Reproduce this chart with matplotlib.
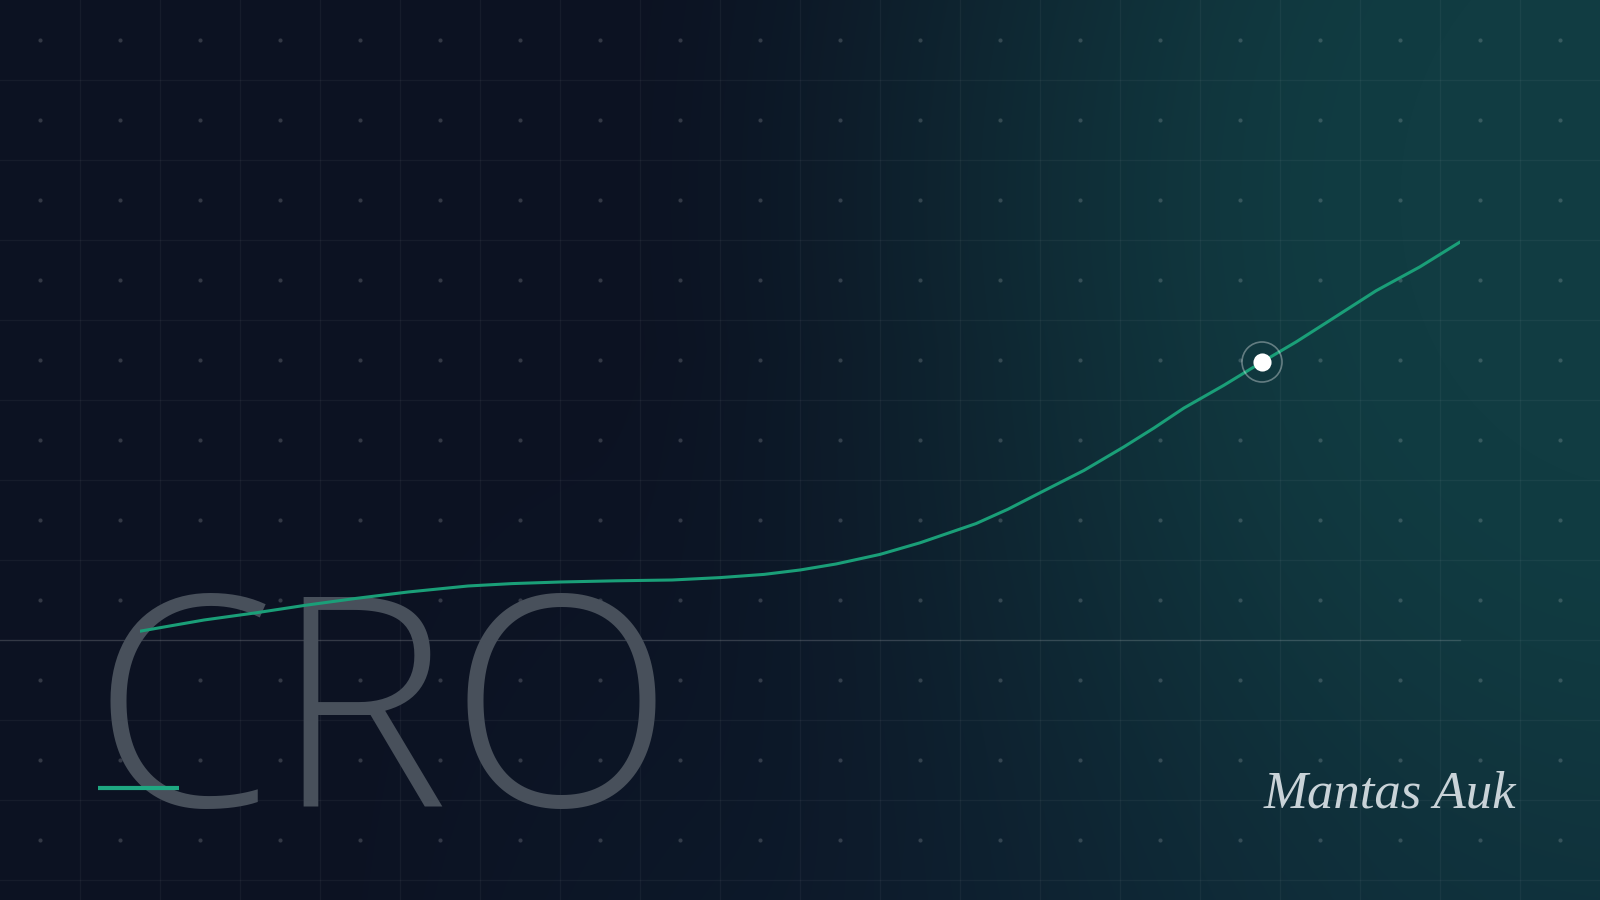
import numpy as np
import matplotlib.pyplot as plt
from matplotlib import font_manager

# conversion rate trend (weeks vs %)
weeks = [0.0, 1.6, 2.9, 4.15, 5.4, 6.7, 8.2, 9.3, 10.5, 11.9, 13.3, 14.5,
         15.6, 16.5, 17.4, 18.5, 19.5, 20.9, 21.7, 22.5, 23.6, 24.6, 25.35,
         26.1, 27.1, 28.05, 28.9, 29.7, 30.9, 32.0, 33.0]
rate = [0.22, 0.5, 0.68, 0.87, 1.04, 1.2, 1.35, 1.41, 1.45, 1.48, 1.5, 1.56,
        1.64, 1.75, 1.9, 2.14, 2.43, 2.91, 3.27, 3.68, 4.24, 4.83, 5.3,
        5.8, 6.37, 6.95, 7.45, 7.96, 8.73, 9.33, 9.95]
highlight = 25  # index of the marked point

title = "CRO"
signature = "Mantas Auk"

# pick a light (300), normal-width sans for the big title
title_font = None
for fam in ['Open Sans', 'Noto Sans', 'Roboto', 'Lato']:
    for f in font_manager.fontManager.ttflist:
        if (f.name == fam and f.weight == 300 and f.style == 'normal'
                and f.stretch in ('normal', 400) and 'ondensed' not in f.fname):
            title_font = f.fname
            break
    if title_font:
        break
title_props = font_manager.FontProperties(fname=title_font, size=212) if title_font \
    else font_manager.FontProperties(family='Open Sans', size=212)

W, H = 1600, 900
fig = plt.figure(figsize=(16, 9), dpi=100)

# background gradient
bg = fig.add_axes([0, 0, 1, 1])
yy, xx = np.mgrid[0:H, 0:W]
navy = np.array([12, 18, 34]) / 255
teal = np.array([17, 60, 66]) / 255
blue = np.array([15, 40, 58]) / 255
d = np.sqrt((xx - 1650) ** 2 + ((yy - 200) / 1.15) ** 2)
t = np.clip(1 - (d - 250) / 840, 0, 1)
t = t * t * (3 - 2 * t)
b = np.clip((yy - 350) / 550, 0, 1) * np.clip((xx - 300) / 1100, 0, 1) * 0.75
b = b * (1 - t)
img = navy * (1 - t - b)[..., None] + teal * t[..., None] + blue * b[..., None]
img = np.clip(img, 0, 1)
bg.imshow(img, extent=(0, W, H, 0), aspect='auto', interpolation='bilinear')
bg.set_xlim(0, W)
bg.set_ylim(H, 0)
bg.axis('off')

# grid lines + dots
for gx in range(80, W, 80):
    bg.axvline(gx, color='white', alpha=0.045, lw=1)
for gy in range(80, H, 80):
    bg.axhline(gy, color='white', alpha=0.045, lw=1)
dx, dy = np.meshgrid(np.arange(40, W, 80), np.arange(40, H, 80))
bg.scatter(dx.ravel(), dy.ravel(), s=9, color='white', alpha=0.16, lw=0)

# big title
bg.text(92, 806, title, fontproperties=title_props,
        color='#48505b', ha='left', va='baseline', zorder=3)
bg.plot([98, 179], [788, 788], color='#1fa882', lw=3, solid_capstyle='butt', zorder=4)

# signature
bg.text(1390, 795, signature, fontsize=38, fontfamily='Liberation Serif', fontstyle='italic',
        color='#c9d3d8', ha='center', va='center', zorder=3)

# chart
ax = fig.add_axes([140 / W, (H - 640) / H, 1320 / W, 400 / H])
ax.patch.set_alpha(0)
ax.set_xlim(0, 33)
ax.set_ylim(0, 10)
for s in ['top', 'right', 'left', 'bottom']:
    ax.spines[s].set_visible(False)
ax.set_xticks([])
ax.set_yticks([])
ax.plot(weeks, rate, color='#1a9f78', lw=2.2, zorder=5, solid_capstyle='round',
        solid_joinstyle='round')
ax.scatter([weeks[highlight]], [rate[highlight]], s=830, facecolor='none',
           edgecolor='white', alpha=0.35, lw=1.2, zorder=6)
ax.scatter([weeks[highlight]], [rate[highlight]], s=170, color='white', zorder=7, lw=0)

# baseline
bg.plot([0, 1460], [640, 640], color='white', alpha=0.13, lw=1, zorder=2)

fig.savefig('out.png', dpi=100)
